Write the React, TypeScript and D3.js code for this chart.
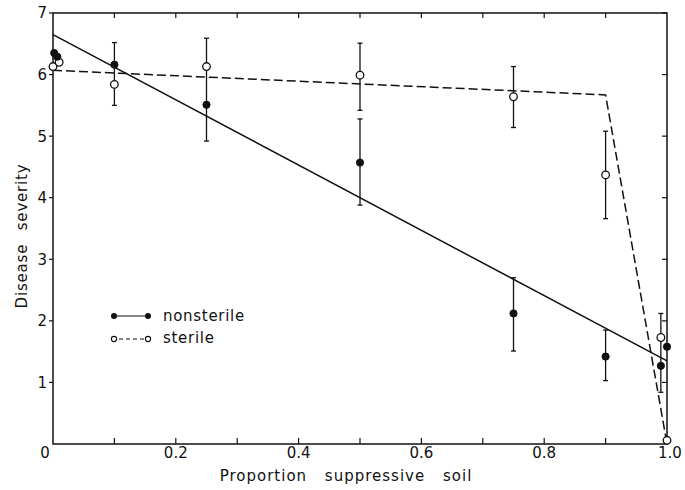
import React from "react";
import * as d3 from "d3";

// nonsterile soil (filled circles)
const nonsterileX = [0.002, 0.007, 0.1, 0.25, 0.5, 0.75, 0.9, 0.99, 1.0];
const nonsterileY = [6.35, 6.29, 6.16, 5.51, 4.57, 2.12, 1.42, 1.27, 1.58];

// sterile soil (open circles)
const sterileX = [0.0, 0.01, 0.1, 0.25, 0.5, 0.75, 0.9, 0.99, 1.0];
const sterileY = [6.13, 6.2, 5.84, 6.13, 5.99, 5.64, 4.37, 1.73, 0.06];

// error bars
const errX = [0.1, 0.25, 0.5, 0.5, 0.75, 0.75, 0.9, 0.9, 0.99];
const errLow = [5.5, 4.92, 5.42, 3.88, 5.14, 1.51, 3.66, 1.03, 0.84];
const errHigh = [6.52, 6.59, 6.51, 5.28, 6.13, 2.7, 5.08, 1.85, 2.12];

// fitted lines
const nonsterileFitX = [0, 1.0];
const nonsterileFitY = [6.65, 1.35];
const sterileFitX = [0, 0.9, 1.0];
const sterileFitY = [6.07, 5.67, 0.0];

const xTickLabels = ["0", "0.2", "0.4", "0.6", "0.8", "1.0"];
const yTickLabels = ["1", "2", "3", "4", "5", "6", "7"];

const width = 685;
const height = 490;
const left = 53;
const right = 667;
const top = 13;
const bottom = 444;
const font = "'DejaVu Sans', sans-serif";
const ink = "#111";

const App = () => {
  const x = d3.scaleLinear().domain([0, 1]).range([left, right]);
  const y = d3.scaleLinear().domain([0, 7]).range([bottom, top]);
  const line = d3
    .line<[number, number]>()
    .x(d => x(d[0]))
    .y(d => y(d[1]));

  const minorX = d3.range(1, 10).map(i => i / 10);
  const yTicks = yTickLabels.map(Number);

  return (
    <svg
      width={width}
      height={height}
      viewBox={`0 0 ${width} ${height}`}
      style={{ position: "absolute", left: 0, top: 0, background: "#fff" }}
    >
      <rect x={0} y={0} width={width} height={height} fill="#fff" />
      {/* frame */}
      <rect
        x={left}
        y={top}
        width={right - left}
        height={bottom - top}
        fill="none"
        stroke={ink}
        strokeWidth={1.5}
      />
      {/* x ticks, inward on bottom and top */}
      {minorX.map(t => (
        <g key={"xt" + t}>
          <line x1={x(t)} x2={x(t)} y1={bottom} y2={bottom - 6} stroke={ink} strokeWidth={1.2} />
          <line x1={x(t)} x2={x(t)} y1={top} y2={top + 5} stroke={ink} strokeWidth={1.2} />
        </g>
      ))}
      {/* y ticks: outward on left, inward on right */}
      {yTicks.map(t => (
        <g key={"yt" + t}>
          <line x1={left - 4} x2={left} y1={y(t)} y2={y(t)} stroke={ink} strokeWidth={1.2} />
          <line x1={right} x2={right - 5} y1={y(t)} y2={y(t)} stroke={ink} strokeWidth={1.2} />
          <text
            x={left - 6}
            y={y(t)}
            dy="0.36em"
            textAnchor="end"
            fontFamily={font}
            fontSize={15}
            fill={ink}
          >
            {String(t)}
          </text>
        </g>
      ))}
      {xTickLabels.map(s => (
        <text
          key={"xl" + s}
          x={x(Number(s)) + (s === "0" ? -8 : s === "1.0" ? 3 : 0)}
          y={458}
          textAnchor="middle"
          fontFamily={font}
          fontSize={15}
          fill={ink}
        >
          {s}
        </text>
      ))}
      {/* axis titles */}
      <text
        x={346}
        y={481}
        textAnchor="middle"
        fontFamily={font}
        fontSize={15}
        letterSpacing={1}
        wordSpacing={12}
        fill={ink}
      >
        Proportion suppressive soil
      </text>
      <text
        transform={`translate(27,236) rotate(-90)`}
        textAnchor="middle"
        fontFamily={font}
        fontSize={15}
        letterSpacing={0.8}
        wordSpacing={8}
        fill={ink}
      >
        Disease severity
      </text>

      {/* fitted lines */}
      <path
        d={line(nonsterileFitX.map((v, i) => [v, nonsterileFitY[i]]))!}
        fill="none"
        stroke={ink}
        strokeWidth={1.5}
      />
      <path
        d={line(sterileFitX.map((v, i) => [v, sterileFitY[i]]))!}
        fill="none"
        stroke={ink}
        strokeWidth={1.5}
        strokeDasharray="9,4"
      />

      {/* error bars */}
      {errX.map((v, i) => (
        <g key={"e" + i} stroke={ink} strokeWidth={1.3}>
          <line x1={x(v)} x2={x(v)} y1={y(errLow[i])} y2={y(errHigh[i])} />
          <line x1={x(v) - 2.5} x2={x(v) + 2.5} y1={y(errLow[i])} y2={y(errLow[i])} />
          <line x1={x(v) - 2.5} x2={x(v) + 2.5} y1={y(errHigh[i])} y2={y(errHigh[i])} />
        </g>
      ))}

      {/* points */}
      {sterileX.map((v, i) => (
        <circle
          key={"s" + i}
          cx={x(v)}
          cy={y(sterileY[i])}
          r={3.8}
          fill="#fff"
          stroke={ink}
          strokeWidth={1.3}
        />
      ))}
      {nonsterileX.map((v, i) => (
        <circle
          key={"n" + i}
          cx={x(v)}
          cy={y(nonsterileY[i])}
          r={3.6}
          fill={ink}
          stroke={ink}
          strokeWidth={1}
        />
      ))}

      {/* legend */}
      <g>
        <line x1={114} x2={148} y1={316} y2={316} stroke={ink} strokeWidth={1.2} />
        <circle cx={114} cy={316} r={3} fill={ink} />
        <circle cx={148} cy={316} r={3} fill={ink} />
        <text x={163} y={320.5} fontFamily={font} fontSize={15} letterSpacing={0.7} fill={ink}>
          nonsterile
        </text>
        <line
          x1={117}
          x2={145}
          y1={339}
          y2={339}
          stroke={ink}
          strokeWidth={1.2}
          strokeDasharray="4,3"
          strokeDashoffset={-2}
        />
        <circle cx={114} cy={339} r={2.6} fill="#fff" stroke={ink} strokeWidth={1.1} />
        <circle cx={148} cy={339} r={2.6} fill="#fff" stroke={ink} strokeWidth={1.1} />
        <text x={163} y={343} fontFamily={font} fontSize={15} letterSpacing={0.7} fill={ink}>
          sterile
        </text>
      </g>
    </svg>
  );
};

export default App;
